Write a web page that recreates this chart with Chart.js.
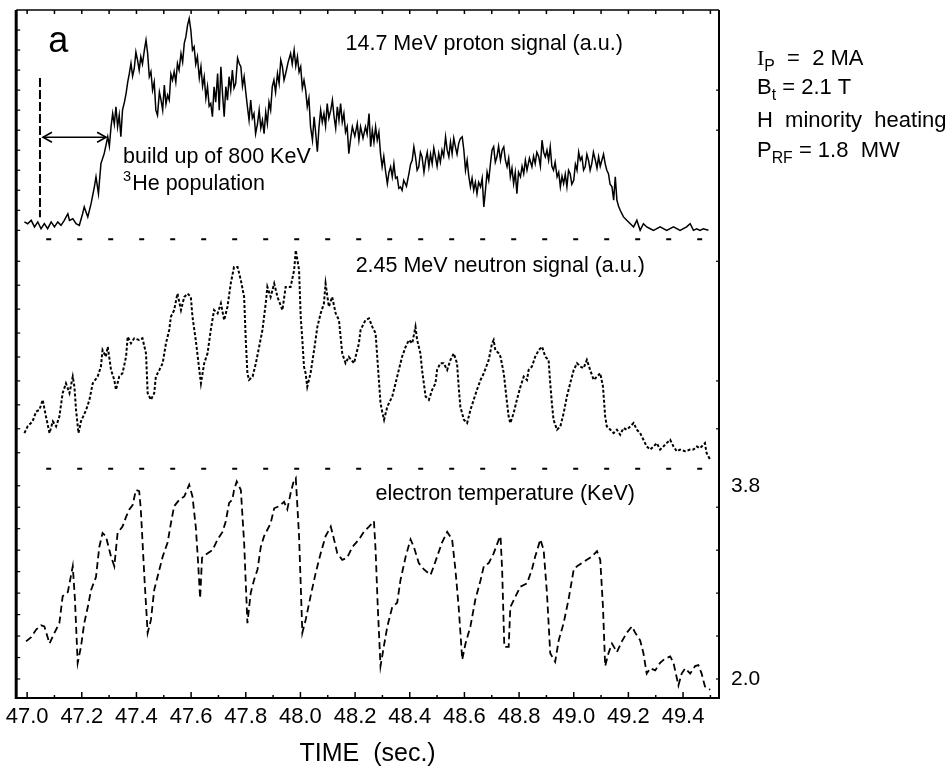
<!DOCTYPE html>
<html><head><meta charset="utf-8">
<script src="https://cdn.jsdelivr.net/npm/chart.js@4.4.1/dist/chart.umd.min.js"></script>
<style>html,body{margin:0;padding:0;background:#fff;}canvas{display:block;}</style>
</head><body>
<canvas id="c" width="948" height="771"></canvas>
<script>
const FONT = '"Liberation Sans", Arial, sans-serif';

// ---- tick labels ----
const xTickValues = [47.0,47.2,47.4,47.6,47.8,48.0,48.2,48.4,48.6,48.8,49.0,49.2,49.4];
const teTickValues = [2.0, 3.8];

// ---- 14.7 MeV proton signal (a.u.) ----
const protonTime = [46.990,47.002,47.015,47.027,47.039,47.051,47.063,47.075,47.088,47.100,47.112,47.124,47.136,47.149,47.155,47.167,47.179,47.191,47.203,47.209,47.222,47.234,47.246,47.252,47.261,47.270,47.282,
47.295,47.301,47.307,47.313,47.319,47.325,47.331,47.337,47.343,47.349,47.356,47.362,47.368,47.374,47.380,47.386,47.392,47.398,47.404,47.410,47.416,47.422,47.429,47.435,47.441,47.447,47.453,47.459,47.465,47.471,47.477,47.484,47.490,47.496,47.502,47.508,47.514,47.520,47.526,47.532,47.538,47.544,47.550,47.556,47.563,47.569,47.575,47.581,47.587,47.593,47.599,47.605,47.611,47.617,47.623,47.630,47.636,47.642,47.648,47.654,47.660,47.666,47.672,47.678,47.684,47.690,47.697,47.703,47.709,47.715,47.721,47.727,47.733,47.739,47.745,47.751,47.757,47.763,47.770,47.776,47.782,47.788,47.794,47.800,47.806,47.812,47.818,47.824,47.830,47.836,47.843,47.849,47.855,47.861,47.867,47.873,47.879,47.885,47.891,47.897,47.903,47.909,47.916,47.922,47.928,47.934,47.940,47.946,47.955,47.964,47.970,47.977,47.983,47.989,47.995,48.001,48.007,48.013,48.019,48.025,48.031,48.037,48.044,48.050,48.056,48.062,48.068,48.074,48.080,48.086,48.092,48.098,48.104,48.111,48.117,48.123,48.129,48.135,48.141,48.147,48.153,48.159,48.165,48.171,48.177,48.184,48.190,48.199,48.208,48.214,48.220,48.229,48.238,48.244,48.251,48.257,48.263,48.269,48.275,48.281,48.287,48.293,
48.299,48.305,48.311,48.318,48.324,48.330,48.336,48.342,48.348,48.354,48.360,48.366,48.372,48.378,48.388,48.397,48.403,48.409,48.415,48.421,48.427,48.433,48.439,48.445,48.452,48.458,48.464,48.470,48.476,48.482,48.488,48.494,48.500,48.506,48.512,48.518,48.524,48.531,48.537,48.543,48.549,48.555,48.561,48.567,48.573,48.579,48.585,48.592,48.598,48.604,48.610,48.616,48.622,48.628,48.634,48.640,48.646,48.652,48.659,48.665,48.671,48.677,48.683,48.689,48.695,48.701,48.707,48.713,48.719,48.725,48.732,48.738,48.744,48.750,48.756,48.762,48.768,48.774,48.780,48.786,48.792,48.798,48.805,48.811,48.817,48.823,48.829,48.838,48.847,48.853,48.859,48.865,48.872,48.878,48.884,48.890,48.896,48.902,48.908,48.914,48.920,48.926,48.932,48.939,48.945,48.951,48.957,48.963,48.969,48.975,48.981,48.987,48.993,49.000,49.006,49.012,49.018,49.024,49.030,49.036,49.042,49.048,49.054,49.060,49.066,49.072,49.079,49.085,49.091,49.097,49.103,49.109,49.115,49.121,49.127,49.133,49.140,49.146,49.152,49.158,49.164,49.170,
49.182,49.194,49.207,49.219,49.231,49.243,49.255,49.267,49.280,49.292,49.316,49.340,49.365,49.389,49.413,49.426,49.438,49.450,49.462,49.474,49.493];
const protonSignal = [0.42,0.33,0.50,0.17,0.42,0.08,0.33,0.08,0.42,0.17,0.42,0.25,0.50,0.83,0.50,0.58,0.33,0.25,0.83,1.17,0.67,1.33,2.17,2.67,1.83,3.33,3.83,
4.67,4.20,5.17,5.83,5.30,6.17,5.17,5.75,4.67,6.00,6.40,6.83,7.40,7.83,8.33,7.70,8.08,8.90,8.50,8.00,8.67,8.30,9.00,9.50,8.83,7.67,7.92,7.00,7.40,6.00,5.75,6.90,6.50,6.00,7.25,6.30,6.75,6.50,7.80,7.50,7.92,7.40,8.33,8.00,8.83,8.40,9.33,9.67,10.25,10.58,10.00,9.00,9.17,8.30,8.67,7.60,8.17,7.20,7.67,6.60,7.17,6.20,6.33,5.67,7.17,6.40,7.83,6.00,8.17,6.80,5.67,7.17,6.50,7.67,7.00,8.00,7.10,7.33,8.60,8.33,8.17,7.20,7.67,6.90,6.17,5.50,6.50,5.60,5.83,4.83,5.33,6.00,5.10,5.50,4.83,5.90,5.33,6.40,6.00,7.17,7.50,6.90,7.83,7.33,8.50,8.17,7.50,7.83,8.40,8.83,8.30,9.00,8.20,8.67,7.90,8.17,7.10,7.50,7.00,6.17,6.60,5.17,4.50,5.67,4.83,3.92,5.17,6.00,5.40,5.83,5.20,6.33,5.60,6.00,6.50,5.67,5.10,6.17,5.50,6.33,5.40,5.83,4.90,5.17,3.83,4.60,5.17,4.70,5.33,4.50,5.17,4.60,5.17,4.80,5.83,4.17,5.00,4.40,5.17,4.50,4.90,3.83,
3.17,3.70,3.00,2.33,2.90,3.17,2.67,3.33,2.60,2.67,2.10,2.17,2.00,2.50,2.20,2.83,3.30,3.50,4.17,3.67,3.00,3.17,3.90,3.67,2.90,3.50,3.90,3.17,3.80,3.33,4.10,3.67,3.20,3.83,3.40,4.00,3.70,4.67,4.00,3.67,4.40,3.83,4.60,4.17,3.80,4.33,4.58,4.67,4.00,3.00,3.50,2.70,2.17,2.60,2.00,2.40,1.83,2.40,2.17,2.60,1.17,2.00,2.90,2.50,3.30,4.00,4.17,3.40,3.67,4.20,3.50,4.00,4.17,3.50,3.17,3.60,2.67,3.10,2.33,2.90,1.83,2.90,2.67,3.20,2.83,3.50,3.00,3.60,3.17,3.70,3.33,3.90,3.67,3.20,4.50,3.90,3.67,4.00,3.50,4.17,3.20,3.00,3.40,2.67,2.90,2.17,2.70,2.33,2.80,2.17,3.00,2.83,2.30,2.50,3.30,3.00,3.90,3.50,3.67,3.00,3.17,3.80,3.50,3.00,3.33,3.90,3.50,3.10,3.67,3.20,3.50,3.80,3.33,3.00,2.83,2.30,2.17,1.50,2.67,1.50,1.20,1.00,
0.67,0.50,0.33,0.17,0.50,0.00,0.33,0.17,0.08,0.00,0.17,0.00,0.17,0.00,0.17,0.33,0.00,0.08,0.00,0.08,0.00];

// ---- 2.45 MeV neutron signal (a.u.) ----
const neutronTime = [46.990,47.002,47.020,47.033,47.045,47.057,47.069,47.082,47.094,47.106,47.118,47.130,47.142,47.155,47.167,47.173,47.179,47.188,47.197,47.216,47.228,47.240,47.258,47.270,47.276,47.288,47.295,47.307,47.319,47.325,47.337,47.349,47.362,47.368,47.380,47.392,47.410,47.422,47.435,47.441,47.453,47.465,47.471,47.484,47.496,47.508,47.520,47.526,47.538,47.550,47.563,47.575,47.587,47.599,47.605,47.617,47.630,47.636,47.648,47.660,47.672,47.684,47.697,47.709,47.721,47.733,47.745,47.757,47.770,47.782,47.794,47.800,47.806,47.812,47.825,47.837,47.849,47.861,47.873,47.879,47.891,47.904,47.916,47.934,47.946,47.964,47.977,47.983,47.995,48.001,48.007,48.013,48.019,48.025,48.037,48.050,48.062,48.074,48.086,48.092,48.104,48.116,48.129,48.141,48.153,48.165,48.177,48.196,48.214,48.220,48.238,48.251,48.263,48.275,48.281,48.287,48.293,48.299,48.306,48.318,48.336,48.348,48.360,48.372,48.385,48.397,48.409,48.421,48.427,48.439,48.445,48.458,48.470,48.482,48.494,48.500,48.512,48.524,48.537,48.549,48.561,48.573,48.579,48.585,48.598,48.610,48.622,48.634,48.646,48.659,48.671,48.689,48.701,48.707,48.713,48.726,48.732,48.744,48.756,48.762,48.768,48.780,48.792,48.805,48.817,48.829,48.835,48.847,48.859,48.872,48.884,48.896,48.908,48.914,48.920,48.926,48.939,48.951,48.963,48.975,48.987,49.000,49.012,49.024,49.036,49.048,49.060,49.073,49.085,49.097,49.107,49.115,49.121,49.134,49.146,49.158,49.170,49.182,49.194,49.207,49.219,49.231,49.243,49.255,49.267,49.280,49.292,49.304,49.316,49.328,49.340,49.353,49.365,49.377,49.389,49.408,49.426,49.438,49.450,49.462,49.480,49.486,49.499];
const neutronSignal = [0.82,1.10,1.31,1.72,1.79,2.21,1.51,0.82,1.31,1.10,1.51,2.49,2.90,2.49,3.18,2.76,1.79,0.82,1.31,1.79,2.21,2.90,3.18,3.60,4.29,4.01,4.43,3.46,3.04,2.63,3.18,3.32,4.01,4.85,4.57,4.78,4.71,4.78,4.15,2.49,2.21,2.49,3.18,3.46,3.74,4.57,5.13,5.68,5.96,6.65,5.96,6.51,6.65,6.51,5.68,4.71,3.46,2.90,3.74,4.15,5.13,5.96,5.82,6.24,5.54,6.10,7.07,7.76,7.76,7.21,6.51,4.71,3.32,3.04,3.18,3.74,4.43,5.13,6.24,6.93,6.51,7.07,6.51,5.96,6.93,6.93,7.63,8.46,7.63,5.68,4.71,3.60,3.32,2.76,3.32,4.29,5.26,5.82,6.24,7.07,6.10,6.51,5.82,5.54,4.15,3.74,4.01,3.74,4.57,5.13,5.54,5.61,5.26,4.99,4.01,3.04,2.07,1.72,1.38,1.93,2.35,2.90,3.46,4.01,4.43,4.71,4.57,5.26,4.71,4.15,3.46,2.35,2.21,2.63,2.90,3.46,3.74,3.74,3.46,3.88,4.15,3.74,2.76,1.93,1.38,1.24,1.79,2.21,2.63,3.04,3.32,3.88,4.57,4.71,4.29,4.15,4.01,3.32,2.07,1.51,1.24,1.65,2.21,2.76,3.18,3.04,3.46,3.60,4.01,4.29,4.43,4.01,3.88,2.90,2.07,1.38,0.96,1.10,1.65,2.35,2.90,3.46,3.74,3.60,3.53,3.88,3.46,3.04,3.18,3.32,2.76,1.51,1.10,0.96,0.82,0.96,0.75,1.03,0.96,1.10,1.24,0.96,0.82,0.54,0.26,0.13,0.26,0.40,0.13,0.26,0.40,0.54,0.26,0.06,0.13,0.06,0.13,0.13,0.26,0.19,0.40,-0.01,-0.29];

// ---- electron temperature (keV) ----
const teTime = [46.996,47.015,47.033,47.051,47.063,47.082,47.100,47.118,47.130,47.149,47.161,47.167,47.175,47.185,47.197,47.209,47.222,47.234,47.252,47.264,47.276,47.288,47.307,47.319,47.331,47.349,47.362,47.374,47.386,47.398,47.410,47.416,47.429,47.441,47.453,47.465,47.484,47.496,47.514,47.526,47.538,47.557,47.575,47.593,47.605,47.617,47.625,47.633,47.640,47.654,47.678,47.697,47.715,47.727,47.739,47.751,47.757,47.767,47.782,47.794,47.806,47.818,47.830,47.843,47.855,47.867,47.879,47.891,47.904,47.922,47.940,47.952,47.964,47.974,47.983,47.995,48.007,48.019,48.037,48.056,48.074,48.092,48.111,48.123,48.135,48.153,48.171,48.190,48.214,48.232,48.251,48.269,48.275,48.283,48.293,48.305,48.318,48.336,48.354,48.366,48.385,48.403,48.415,48.433,48.452,48.476,48.488,48.500,48.518,48.537,48.555,48.567,48.579,48.592,48.604,48.622,48.640,48.659,48.671,48.689,48.707,48.726,48.732,48.738,48.746,48.762,48.768,48.787,48.805,48.829,48.847,48.859,48.878,48.890,48.902,48.914,48.932,48.945,48.963,48.981,49.000,49.012,49.030,49.048,49.066,49.085,49.097,49.107,49.115,49.127,49.140,49.158,49.176,49.194,49.213,49.225,49.243,49.255,49.267,49.280,49.298,49.316,49.334,49.353,49.365,49.383,49.395,49.408,49.426,49.444,49.456,49.468,49.480,49.499];
const teKeV = [2.35,2.39,2.46,2.50,2.49,2.33,2.43,2.52,2.77,2.81,2.97,3.05,2.74,2.15,2.30,2.52,2.67,2.83,2.95,3.23,3.36,3.33,3.14,3.05,3.36,3.42,3.51,3.58,3.62,3.76,3.75,3.58,2.95,2.43,2.55,2.83,3.02,3.14,3.27,3.45,3.61,3.67,3.70,3.81,3.70,3.42,3.11,2.75,3.13,3.16,3.20,3.30,3.37,3.47,3.64,3.67,3.76,3.84,3.76,3.27,2.52,2.80,2.92,3.02,3.23,3.33,3.39,3.45,3.59,3.61,3.65,3.58,3.73,3.83,3.87,3.33,2.43,2.55,2.77,2.99,3.17,3.33,3.42,3.30,3.17,3.11,3.13,3.23,3.30,3.37,3.42,3.47,3.20,2.67,2.12,2.30,2.49,2.67,2.71,2.92,3.14,3.30,3.23,3.08,3.02,2.97,3.05,3.14,3.27,3.37,3.30,3.02,2.67,2.18,2.33,2.49,2.74,2.92,3.05,3.08,3.17,3.30,3.33,3.02,2.30,2.30,2.67,2.77,2.86,2.89,3.02,3.14,3.30,3.20,2.80,2.24,2.16,2.36,2.52,2.74,3.02,3.05,3.08,3.11,3.14,3.19,3.11,2.67,2.12,2.24,2.33,2.25,2.35,2.43,2.49,2.43,2.36,2.24,2.05,2.10,2.08,2.15,2.19,2.21,2.15,1.94,2.05,2.10,2.05,2.12,2.13,2.05,1.93,1.90];

const pts = (xs, ys) => xs.map((x, i) => ({x, y: ys[i]}));

function richText(ctx, x, y, parts, size) {
  let cx = x;
  for (const p of parts) {
    const s = p.sub ? size * 0.72 : p.sup ? size * 0.68 : size;
    ctx.font = s + 'px ' + (p.family || FONT);
    const dy = p.sub ? size * 0.28 : p.sup ? -size * 0.42 : 0;
    ctx.fillText(p.t, cx, y + dy);
    cx += ctx.measureText(p.t).width + (p.gap || 0);
  }
}

const decor = {
  id: 'decor',
  afterDraw(chart) {
    const {ctx, chartArea: a} = chart;
    const {x, yP, yN, yT} = chart.scales;
    ctx.save();
    ctx.strokeStyle = '#000';
    ctx.fillStyle = '#000';
    const seg = (x1, y1, x2, y2, w) => { ctx.lineWidth = w; ctx.beginPath(); ctx.moveTo(x1, y1); ctx.lineTo(x2, y2); ctx.stroke(); };
    // frame
    seg(a.left, a.top, a.left, a.bottom + 1, 3);
    seg(a.right, a.top, a.right, a.bottom + 1, 2);
    seg(a.left, a.top, a.right, a.top, 1.5);
    seg(a.left, a.bottom, a.right + 1, a.bottom, 2);
    // top and bottom ticks
    for (let k = 0; k <= 25; k++) {
      const px = x.getPixelForValue(47.0 + k * 0.1);
      seg(px, a.top, px, a.top + 4, 1.5);
      seg(px, a.bottom, px, a.bottom - (k % 2 === 0 ? 6 : 3), 1.5);
    }
    // left ticks per panel
    for (let v = 0; v <= 10; v++) { const py = yP.getPixelForValue(v); seg(a.left, py, a.left + 4, py, 1.2); }
    for (let v = 0; v <= 8; v++) { const py = yN.getPixelForValue(v); seg(a.left, py, a.left + 4, py, 1.2); }
    for (let k = 0; k <= 9; k++) { const py = yT.getPixelForValue(2.0 + k * 0.2); seg(a.left, py, a.left + 4, py, 1.2); }
    // right ticks
    for (const v of [7, 5]) { const py = yP.getPixelForValue(v); seg(a.right, py, a.right - 3, py, 1.2); }
    for (const v of [8, 3, 1]) { const py = yN.getPixelForValue(v); seg(a.right, py, a.right - 3, py, 1.2); }
    for (const v of [3.6, 3.2, 2.8, 2.4, 2.0]) { const py = yT.getPixelForValue(v); seg(a.right, py, a.right - 3, py, 1.2); }
    // panel separators
    ctx.setLineDash([5, 26]);
    seg(a.left + 30, yP.bottom, a.right - 4, yP.bottom, 2);
    seg(a.left + 30, yN.bottom, a.right - 4, yN.bottom, 2);
    // start marker (vertical dashed) and arrow
    ctx.setLineDash([9, 3]);
    const vx = x.getPixelForValue(47.047);
    seg(vx, yP.getPixelForValue(7.6), vx, yP.getPixelForValue(0.65), 2);
    ctx.setLineDash([]);
    const ay = yP.getPixelForValue(4.65);
    const ax1 = x.getPixelForValue(47.058), ax2 = x.getPixelForValue(47.289);
    seg(ax1, ay, ax2, ay, 1.6);
    ctx.lineWidth = 1.6;
    ctx.beginPath();
    ctx.moveTo(ax1 + 9, ay - 5); ctx.lineTo(ax1, ay); ctx.lineTo(ax1 + 9, ay + 5);
    ctx.moveTo(ax2 - 9, ay - 5); ctx.lineTo(ax2, ay); ctx.lineTo(ax2 - 9, ay + 5);
    ctx.stroke();
    // texts
    ctx.textBaseline = 'alphabetic';
    ctx.textAlign = 'left';
    ctx.font = '36px ' + FONT;
    ctx.fillText('a', x.getPixelForValue(47.077), yP.getPixelForValue(8.9));
    ctx.font = '21.5px ' + FONT;
    ctx.fillText('14.7 MeV proton signal (a.u.)', x.getPixelForValue(48.165), yP.getPixelForValue(9.0));
    ctx.fillText('build up of 800 KeV', x.getPixelForValue(47.351), yP.getPixelForValue(3.35));
    richText(ctx, x.getPixelForValue(47.351), yP.getPixelForValue(2.0), [{t: '3', sup: true, gap: 1}, {t: 'He population'}], 21.5);
    ctx.font = '21.5px ' + FONT;
    ctx.fillText('2.45 MeV neutron signal (a.u.)', x.getPixelForValue(48.202), yN.getPixelForValue(7.54));
    ctx.fillText('electron temperature (KeV)', x.getPixelForValue(48.275), yT.getPixelForValue(3.67));
    // parameter list at right
    const rx = a.right + 38;
    richText(ctx, rx, yP.getPixelForValue(8.25), [{t: 'I', family: '"Liberation Serif", serif'}, {t: 'P', sub: true}, {t: '  =  2 MA'}], 22);
    richText(ctx, rx, yP.getPixelForValue(6.8), [{t: 'B'}, {t: 't', sub: true}, {t: ' = 2.1 T'}], 22);
    richText(ctx, rx, yP.getPixelForValue(5.15), [{t: 'H  minority  heating'}], 22);
    richText(ctx, rx, yP.getPixelForValue(3.65), [{t: 'P'}, {t: 'RF', sub: true}, {t: ' = 1.8  MW'}], 22);
    ctx.restore();
  }
};

new Chart(document.getElementById('c'), {
  type: 'line',
  data: {
    datasets: [
      {label: '14.7 MeV proton signal (a.u.)', data: pts(protonTime, protonSignal), yAxisID: 'yP',
       borderColor: '#000', borderWidth: 1.5, pointRadius: 0, tension: 0},
      {label: '2.45 MeV neutron signal (a.u.)', data: pts(neutronTime, neutronSignal), yAxisID: 'yN',
       borderColor: '#000', borderWidth: 2, borderDash: [3, 2], pointRadius: 0, tension: 0},
      {label: 'electron temperature (KeV)', data: pts(teTime, teKeV), yAxisID: 'yT',
       borderColor: '#000', borderWidth: 1.8, borderDash: [7, 4], pointRadius: 0, tension: 0}
    ]
  },
  options: {
    responsive: false,
    animation: false,
    layout: {padding: {left: 15, right: 179, top: 10, bottom: 0}},
    plugins: {legend: {display: false}, tooltip: {enabled: false}},
    scales: {
      x: {
        type: 'linear', min: 46.96, max: 49.5315,
        afterBuildTicks: (s) => { s.ticks = xTickValues.map(v => ({value: v})); },
        afterFit: (s) => { s.height = 73; },
        ticks: {callback: (v) => Number(v).toFixed(1), font: {family: FONT, size: 22}, color: '#000',
                padding: 6, maxRotation: 0, autoSkip: false},
        grid: {display: false, drawTicks: false},
        border: {display: false},
        title: {display: true, text: 'TIME  (sec.)', font: {family: FONT, size: 25}, color: '#000', padding: 2}
      },
      yP: {type: 'linear', position: 'right', stack: 'panels', stackWeight: 1, min: -0.45, max: 11.0, display: false},
      yN: {type: 'linear', position: 'right', stack: 'panels', stackWeight: 1, min: -0.667, max: 8.917, display: false},
      yT: {
        type: 'linear', position: 'right', stack: 'panels', stackWeight: 1, min: 1.823, max: 3.959,
        afterBuildTicks: (s) => { s.ticks = teTickValues.map(v => ({value: v})); },
        afterFit: (s) => { s.width = 50; s.paddingTop = 0; s.paddingBottom = 0; },
        ticks: {callback: (v) => Number(v).toFixed(1), font: {family: FONT, size: 21}, color: '#000', padding: 12},
        grid: {display: false, drawTicks: false},
        border: {display: false}
      }
    }
  },
  plugins: [decor]
});
</script>
</body></html>
